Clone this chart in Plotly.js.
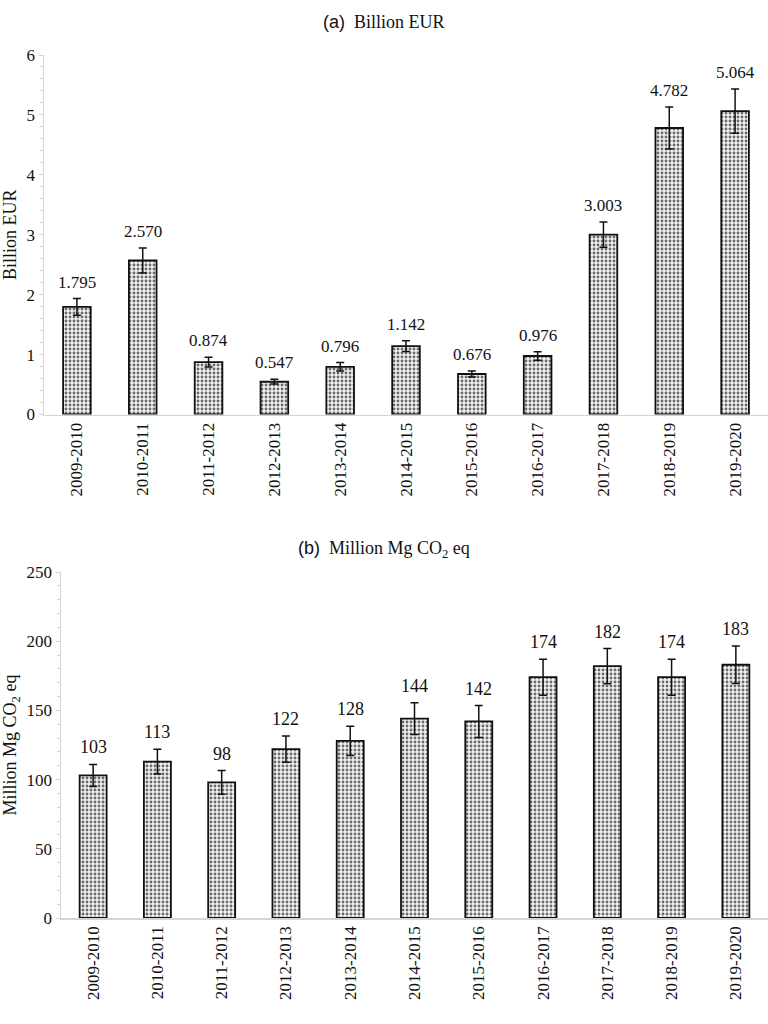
<!DOCTYPE html>
<html>
<head>
<meta charset="utf-8">
<script src="https://cdn.plot.ly/plotly-3.0.1.min.js"></script>
<style>html,body{margin:0;padding:0;background:#fff;}#chart{width:768px;height:1024px;}</style>
</head>
<body>
<div id="chart"></div>
<script>
// ---- data ----
const categories = ["2009-2010","2010-2011","2011-2012","2012-2013","2013-2014","2014-2015","2015-2016","2016-2017","2017-2018","2018-2019","2019-2020"];
const eurValues = [1.795, 2.570, 0.874, 0.547, 0.796, 1.142, 0.676, 0.976, 3.003, 4.782, 5.064];
const eurErrors = [0.14, 0.21, 0.08, 0.04, 0.07, 0.09, 0.05, 0.07, 0.21, 0.35, 0.37];
const co2Values = [103, 113, 98, 122, 128, 144, 142, 174, 182, 174, 183];
const co2Errors = [8, 9, 8.5, 9.5, 10.5, 11.5, 11.5, 13, 12.7, 13, 13.6];

const serif = "Liberation Serif";
const sans = "Liberation Sans";

const barStyle = {
  color: "#f0f0f0",
  line: {color: "#111", width: 1.8},
  pattern: {shape: ".", size: 4, solidity: 0.4, fgcolor: "#6a6a6a", bgcolor: "#f2f2f2", fillmode: "replace"}
};
const errStyle = {type: "data", visible: true, color: "#111", thickness: 1.5, width: 4};

const traces = [
  {type: "bar", x: categories, y: eurValues, xaxis: "x", yaxis: "y",
   marker: barStyle, error_y: Object.assign({array: eurErrors}, errStyle), hoverinfo: "none"},
  {type: "bar", x: categories, y: co2Values, xaxis: "x2", yaxis: "y2",
   marker: barStyle, error_y: Object.assign({array: co2Errors}, errStyle), hoverinfo: "none"}
];

const annotations = [];
eurValues.forEach((v, i) => annotations.push({
  xref: "x", yref: "y", x: categories[i], y: v + eurErrors[i], yanchor: "bottom", yshift: 5,
  text: v.toFixed(3), showarrow: false, font: {family: serif, size: 17, color: "#111"}
}));
co2Values.forEach((v, i) => annotations.push({
  xref: "x2", yref: "y2", x: categories[i], y: v + co2Errors[i], yanchor: "bottom", yshift: 5,
  text: String(v), showarrow: false, font: {family: serif, size: 18, color: "#111"}
}));
annotations.push({
  xref: "paper", yref: "paper", x: 0.5, y: 1 - 22/1024, yanchor: "middle", xanchor: "center", showarrow: false,
  text: '<span style="font-family:Liberation Sans">(a)</span>  Billion EUR', font: {family: serif, size: 18, color: "#111"}
});
annotations.push({
  xref: "paper", yref: "paper", x: 0.5, y: 1 - 549/1024, yanchor: "middle", xanchor: "center", showarrow: false,
  text: '<span style="font-family:Liberation Sans">(b)</span>  Million Mg CO<sub>2</sub> eq', font: {family: serif, size: 18, color: "#111"}
});

const axisCommonY = {
  showgrid: false, zeroline: false, showline: true, linecolor: "#d4d4d4", linewidth: 1.5,
  ticks: "outside", ticklen: 4, tickcolor: "#d4d4d4",
  tickfont: {family: serif, size: 17, color: "#111"},
  minor: {ticks: "outside", ticklen: 3, tickcolor: "#d4d4d4"}
};
const axisCommonX = {
  showgrid: false, zeroline: false, showline: true, linecolor: "#d4d4d4", linewidth: 1.5,
  ticks: "", tickangle: -90, tickfont: {family: serif, size: 17, color: "#111"}, type: "category"
};

const layout = {
  width: 768, height: 1024, showlegend: false,
  paper_bgcolor: "#fff", plot_bgcolor: "#fff",
  margin: {l: 0, r: 0, t: 0, b: 0},
  bargap: 0.58,
  xaxis: Object.assign({}, axisCommonX, {domain: [44/768, 1], anchor: "y"}),
  yaxis: Object.assign({}, axisCommonY, {domain: [1 - 414.5/1024, 1 - 55/1024], anchor: "x",
    range: [0, 6], dtick: 1, minor: Object.assign({}, axisCommonY.minor, {dtick: 0.2}),
    title: {text: "Billion EUR", font: {family: serif, size: 18, color: "#111"}, standoff: 6}}),
  xaxis2: Object.assign({}, axisCommonX, {domain: [61/768, 1], anchor: "y2"}),
  yaxis2: Object.assign({}, axisCommonY, {domain: [1 - 918/1024, 1 - 572/1024], anchor: "x2",
    range: [0, 250], dtick: 50, minor: Object.assign({}, axisCommonY.minor, {dtick: 10}),
    title: {text: "Million Mg CO<sub>2</sub> eq", font: {family: serif, size: 18, color: "#111"}, standoff: 6}}),
  annotations: annotations
};

Plotly.newPlot("chart", traces, layout, {staticPlot: true, displayModeBar: false});
</script>
</body>
</html>
